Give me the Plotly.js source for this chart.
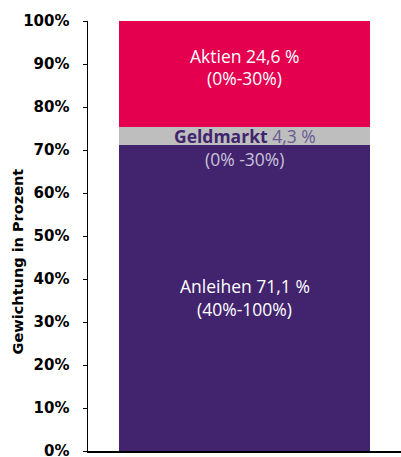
<!DOCTYPE html>
<html><head><meta charset="utf-8">
<script src="https://cdn.plot.ly/plotly-3.0.1.min.js"></script>
<style>body{margin:0;padding:0;background:#fff}#chart{width:401px;height:457px}</style>
</head><body><div id="chart"></div>
<script>
const category = ["Portfolio"];
const names = ["Anleihen", "Geldmarkt", "Aktien"];
const values = [71.1, 4.3, 24.6];
const ranges = ["(40%-100%)", "(0% -30%)", "(0%-30%)"];
const valueLabels = ["71,1 %", "4,3 %", "24,6 %"];
const colors = ["#42246E", "#BEBEBE", "#E4004F"];
const tickVals = [0,10,20,30,40,50,60,70,80,90,100];
const tickText = tickVals.map(v => v + "%");

const FONT = "'Open Sans', sans-serif";
const TFONT = "'DejaVu Sans', sans-serif";
const FS = 17.5;
const traces = names.map((n, i) => ({
  type: "bar", x: category, y: [values[i]], name: n,
  marker: {color: colors[i], line: {width: 0}}, width: 0.8,
  hoverinfo: "skip"
}));

let base = 0;
const mids = values.map(v => { const m = base + v / 2; base += v; return m; });
const annotations = [];
annotations.push({x: 0, y: mids[0], text: names[0] + " " + valueLabels[0], yshift: 12, showarrow: false,
  font: {family: FONT, size: FS, color: "#FFFFFF"}});
annotations.push({x: 0, y: mids[0], text: ranges[0], yshift: -11, showarrow: false,
  font: {family: FONT, size: FS, color: "#FFFFFF"}});
annotations.push({x: 0, y: mids[1], text: "<b>" + names[1] + "</b> <span style='color:#6A5A92'>" + valueLabels[1] + "</span>", yshift: 0, showarrow: false,
  font: {family: FONT, size: FS, color: "#42246E"}});
annotations.push({x: 0, y: mids[1], text: ranges[1], yshift: -23, showarrow: false,
  font: {family: FONT, size: FS, color: "#C9C2DA"}});
annotations.push({x: 0, y: mids[2], text: names[2] + " " + valueLabels[2], yshift: 18, showarrow: false,
  font: {family: FONT, size: FS, color: "#FFFFFF"}});
annotations.push({x: 0, y: mids[2], text: ranges[2], yshift: -4, showarrow: false,
  font: {family: FONT, size: FS, color: "#FFFFFF"}});
annotations.push({xref: "paper", yref: "paper", x: -0.225, y: 0.44, xanchor: "center", yanchor: "middle",
  text: "<b>Gewichtung in Prozent</b>",
  textangle: -90, showarrow: false, font: {family: TFONT, size: 14.5, color: "#000"}});

const layout = {
  width: 401, height: 457,
  margin: {l: 88, r: 0, t: 21, b: 6},
  barmode: "stack", showlegend: false,
  paper_bgcolor: "#fff", plot_bgcolor: "#fff",
  xaxis: {range: [-0.5, 0.5], showticklabels: false, ticks: "", showline: true, linecolor: "#000", linewidth: 2,
    showgrid: false, zeroline: false, fixedrange: true},
  yaxis: {range: [0, 100], tickvals: tickVals, ticktext: tickText, ticks: "outside", ticklen: 4, tickcolor: "#000",
    ticklabelstandoff: 10, ticklabeloverflow: "allow",
    showline: true, linecolor: "#000", linewidth: 1.5, showgrid: false, zeroline: false,
    tickfont: {family: TFONT, size: 15, color: "#000", weight: "bold"}},
  annotations: annotations
};
Plotly.newPlot("chart", traces, layout, {displayModeBar: false, staticPlot: true});
</script></body></html>
